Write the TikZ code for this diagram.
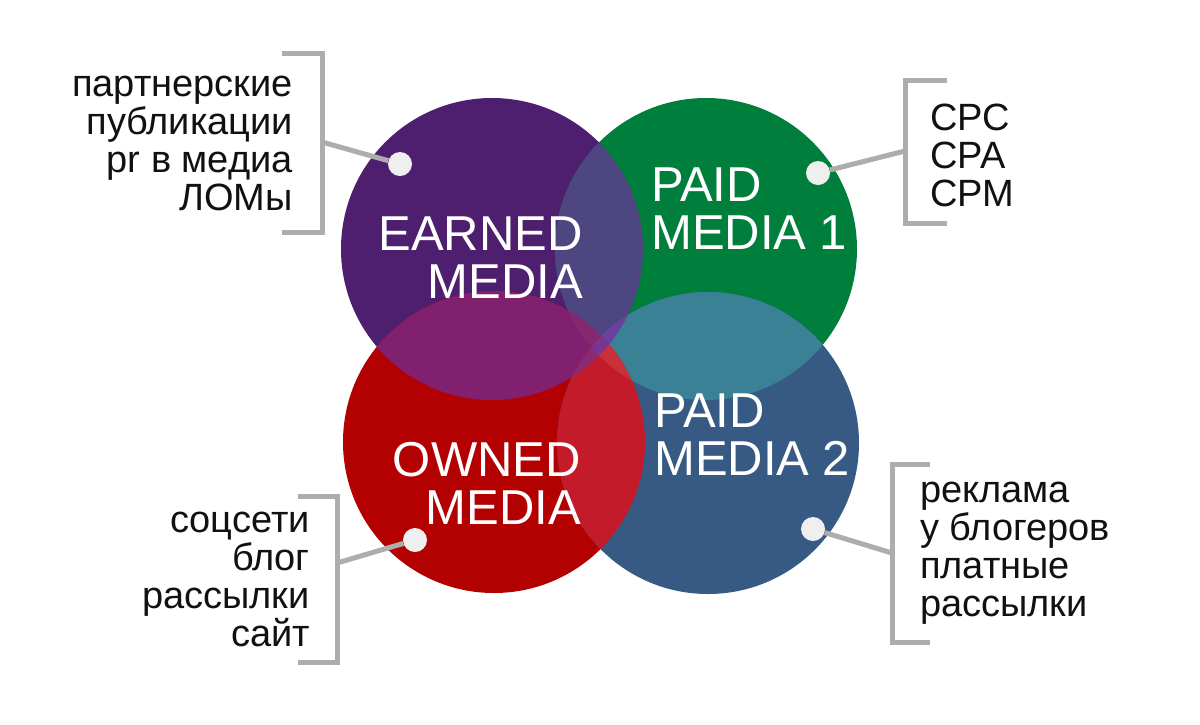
\documentclass[tikz,border=0pt]{standalone}
\usepackage{fontspec}
\setmainfont{Liberation Sans}
\definecolor{colE}{HTML}{4F1F6F}
\definecolor{colP}{HTML}{007F3C}
\definecolor{colO}{HTML}{B30000}
\definecolor{colQ}{HTML}{375A85}
\definecolor{colEP}{HTML}{4D4680}
\definecolor{colEO}{HTML}{80206F}
\definecolor{colPQ}{HTML}{3A8196}
\definecolor{colOQ}{HTML}{C41B2A}
\definecolor{colEPQ}{HTML}{6A40A0}
\definecolor{colEOP}{HTML}{85286F}
\definecolor{colEOQ}{HTML}{8A2A72}
\definecolor{colOPQ}{HTML}{C8303A}
\definecolor{colAll}{HTML}{7A3590}
\definecolor{brkgray}{HTML}{ADADAD}
\definecolor{dotgray}{HTML}{EFEFEF}
\definecolor{ink}{HTML}{111111}
\tikzset{
  bigtext/.style={text=white, font=\fontsize{49}{48}\selectfont, inner sep=0pt},
  sidetext/.style={text=ink, font=\fontsize{38}{38}\selectfont, inner sep=0pt},
  dotnode/.style={circle, fill=dotgray, minimum size=24pt, inner sep=0pt},
  brk/.style={draw=brkgray, line width=5pt, line cap=butt, line join=miter}
}
\begin{document}
\begin{tikzpicture}[x=1pt,y=-1pt]
\useasboundingbox (0,0) rectangle (1200,724);
\fill[white] (0,0) rectangle (1200,724);
\def\R{151pt}
\coordinate (cE) at (492,249);
\coordinate (cP) at (706,249);
\coordinate (cO) at (494,442);
\coordinate (cQ) at (708,443);
% base circles
\fill[colE] (cE) circle (\R);
\fill[colP] (cP) circle (\R);
\fill[colO] (cO) circle (\R);
\fill[colQ] (cQ) circle (\R);
% pairwise overlaps
\begin{scope}\clip (cE) circle (\R); \fill[colEP] (cP) circle (\R); \fill[colEO] (cO) circle (\R); \end{scope}
\begin{scope}\clip (cP) circle (\R); \fill[colPQ] (cQ) circle (\R); \end{scope}
\begin{scope}\clip (cO) circle (\R); \fill[colOQ] (cQ) circle (\R); \end{scope}
% triple overlaps
\begin{scope}\clip (cE) circle (\R); \clip (cP) circle (\R); \fill[colEPQ] (cQ) circle (\R); \end{scope}
\begin{scope}\clip (cE) circle (\R); \clip (cO) circle (\R); \fill[colEOP] (cP) circle (\R); \fill[colEOQ] (cQ) circle (\R); \end{scope}
\begin{scope}\clip (cO) circle (\R); \clip (cQ) circle (\R); \fill[colOPQ] (cP) circle (\R); \end{scope}
\begin{scope}\clip (cE) circle (\R); \clip (cO) circle (\R); \clip (cP) circle (\R); \fill[colAll] (cQ) circle (\R); \end{scope}
% circle labels (base anchor = baseline of last line)
\node[bigtext, anchor=base east, align=right] (tE) at (583,298) {EARNED\\MEDIA};
\node[bigtext, anchor=base west, align=left] (tP) at (651,249) {PAID\\MEDIA 1};
\node[bigtext, anchor=base east, align=right] (tO) at (581,524) {OWNED\\MEDIA};
\node[bigtext, anchor=base west, align=left] (tQ) at (654,475) {PAID\\MEDIA 2};
% side lists
\node[sidetext, anchor=base east, align=right] (lE) at (293,210) {партнерские\\публикации\\pr в медиа\\ЛОМы};
\node[sidetext, anchor=base west, align=left] (lP) at (930,206) {CPC\\CPA\\CPM};
\node[sidetext, anchor=base east, align=right] (lO) at (310,646) {соцсети\\блог\\рассылки\\сайт};
\node[sidetext, anchor=base west, align=left] (lQ) at (920,616) {реклама\\у блогеров\\платные\\рассылки};
% brackets
\draw[brk] (282,53) -- (322,53) -- (322,232) -- (282,232);
\draw[brk] (947,80) -- (905,80) -- (905,223) -- (947,223);
\draw[brk] (298,496) -- (337,496) -- (337,662) -- (298,662);
\draw[brk] (930,464) -- (892,464) -- (892,642) -- (930,642);
\coordinate (bE) at (322,142);
\coordinate (bP) at (905,151);
\coordinate (bO) at (337,563);
\coordinate (bQ) at (892,553);
% dots
\node[dotnode] (dE) at (400,164) {};
\node[dotnode] (dP) at (818,173) {};
\node[dotnode] (dO) at (415,540) {};
\node[dotnode] (dQ) at (813,529) {};
% connectors
\draw[brk] (bE) -- (dE);
\draw[brk] (bP) -- (dP);
\draw[brk] (bO) -- (dO);
\draw[brk] (bQ) -- (dQ);
\end{tikzpicture}
\end{document}
